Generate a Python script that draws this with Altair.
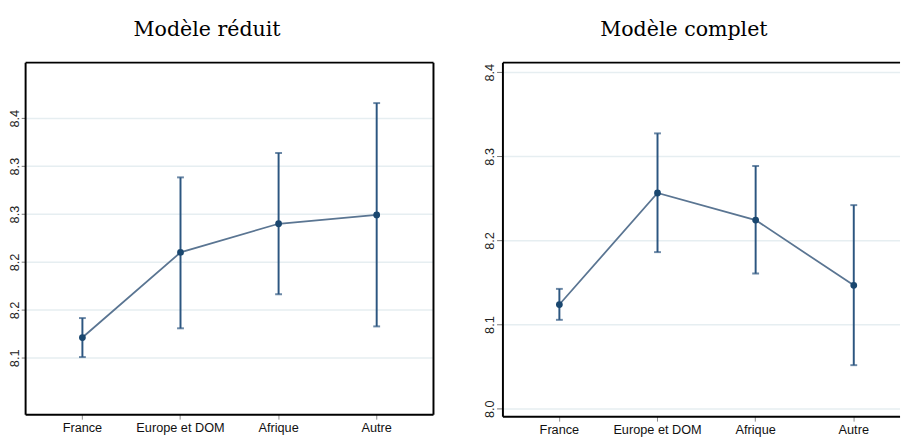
import json
import altair as alt
import pandas as pd

categories = ["France", "Europe et DOM", "Afrique", "Autre"]

reduit_est = [8.1217, 8.2105, 8.2404, 8.2496]
reduit_lo = [8.1013, 8.1313, 8.1669, 8.1333]
reduit_hi = [8.1420, 8.2888, 8.3143, 8.3663]

complet_est = [8.1244, 8.2570, 8.2248, 8.1472]
complet_lo = [8.1062, 8.1867, 8.1612, 8.0523]
complet_hi = [8.1430, 8.3279, 8.2891, 8.2426]

left_ticks = [8.10, 8.15, 8.20, 8.25, 8.30, 8.35]
left_tick_labels = ["8.1", "8.2", "8.2", "8.3", "8.3", "8.4"]
right_ticks = [8.0, 8.1, 8.2, 8.3, 8.4]
right_tick_labels = ["8.0", "8.1", "8.2", "8.3", "8.4"]

titles = ["Modèle réduit", "Modèle complet"]

NAVY = "#1a476f"
CI = "#2c5680"
LINE = "#5a7592"
GRID = "#e6eef1"


def make_df(est, lo, hi):
    return pd.DataFrame({
        "cat": categories,
        "pos": list(range(len(categories))),
        "est": est, "lo": lo, "hi": hi,
    })


def lab_expr(values, labels):
    return f"{json.dumps(labels)}[indexof({json.dumps(values)}, datum.value)]"


def panel(df, ydom, yticks, ylabels, xdom, width, height, title, dx,
          tick_size, y_extent, closed_right):
    x_axis = alt.Axis(
        values=list(range(len(categories))),
        labelExpr=f"{json.dumps(categories)}[datum.value]",
        title=None, grid=False, tickSize=5, tickColor="#888", tickWidth=1,
        labelFont="Liberation Sans", labelFontSize=13, labelColor="#111",
        labelPadding=3, labelAngle=0, translate=0,
        domain=True, domainColor="black", domainWidth=2,
    )
    y_axis = alt.Axis(
        values=yticks, labelExpr=lab_expr(yticks, ylabels), title=None,
        grid=True, gridColor=GRID, gridWidth=1.5,
        tickSize=tick_size, tickColor="#777", tickWidth=1,
        labelFont="Liberation Sans", labelFontSize=13, labelColor="#222",
        labelAngle=270, labelAlign="center", labelBaseline="bottom",
        labelPadding=0, minExtent=y_extent, maxExtent=y_extent, translate=0,
        domain=True, domainColor="black", domainWidth=2,
    )
    xs = alt.Scale(domain=xdom, nice=False, zero=False)
    ys = alt.Scale(domain=ydom, nice=False, zero=False)

    def X():
        return alt.X("pos:Q", scale=xs, axis=x_axis)

    def Y(f):
        return alt.Y(f"{f}:Q", scale=ys, axis=y_axis)

    base = alt.Chart(df)
    rules = base.mark_rule(color=CI, strokeWidth=2).encode(
        x=X(), y=Y("lo"), y2="hi:Q")
    cap_lo = base.mark_tick(orient="horizontal", size=7, thickness=2, color=CI).encode(
        x=X(), y=Y("lo"))
    cap_hi = base.mark_tick(orient="horizontal", size=7, thickness=2, color=CI).encode(
        x=X(), y=Y("hi"))
    line = base.mark_line(color=LINE, strokeWidth=1.8).encode(x=X(), y=Y("est"))
    pts = base.mark_circle(color=NAVY, size=48, opacity=1).encode(x=X(), y=Y("est"))
    frame = alt.Chart(df.head(1))
    top = frame.mark_rule(color="black", strokeWidth=2).encode(
        x=alt.value(0), x2=alt.value(width), y=alt.value(0))
    layers = [rules, cap_lo, cap_hi, line, pts, top]
    if closed_right:
        side = frame.mark_rule(color="black", strokeWidth=2).encode(
            x=alt.value(width), y=alt.value(0), y2=alt.value(height))
        layers.append(side)
    ttl = alt.TitleParams(
        text=title, font="DejaVu Serif", fontSize=21, fontWeight="normal",
        color="black", anchor="middle", frame="group", dx=dx, offset=22)
    return alt.layer(*layers).properties(width=width, height=height, title=ttl)


left = panel(make_df(reduit_est, reduit_lo, reduit_hi),
             [8.0411, 8.4085], left_ticks, left_tick_labels,
             [-0.579, 3.579], 417, 360, titles[0], -23, 4, 16, True)
right = panel(make_df(complet_est, complet_lo, complet_hi),
              [7.991, 8.412], right_ticks, right_tick_labels,
              [-0.5753, 3.4716], 406, 362, titles[1], -18, 6, 18, False)

chart = alt.hconcat(left, right, spacing=49).properties(
    padding={"left": 0, "top": 6, "right": 0, "bottom": 0}
).configure(background="white", view=alt.ViewConfig(stroke="transparent"))

chart.save("out.html", embed_options={"renderer": "svg", "actions": False})
